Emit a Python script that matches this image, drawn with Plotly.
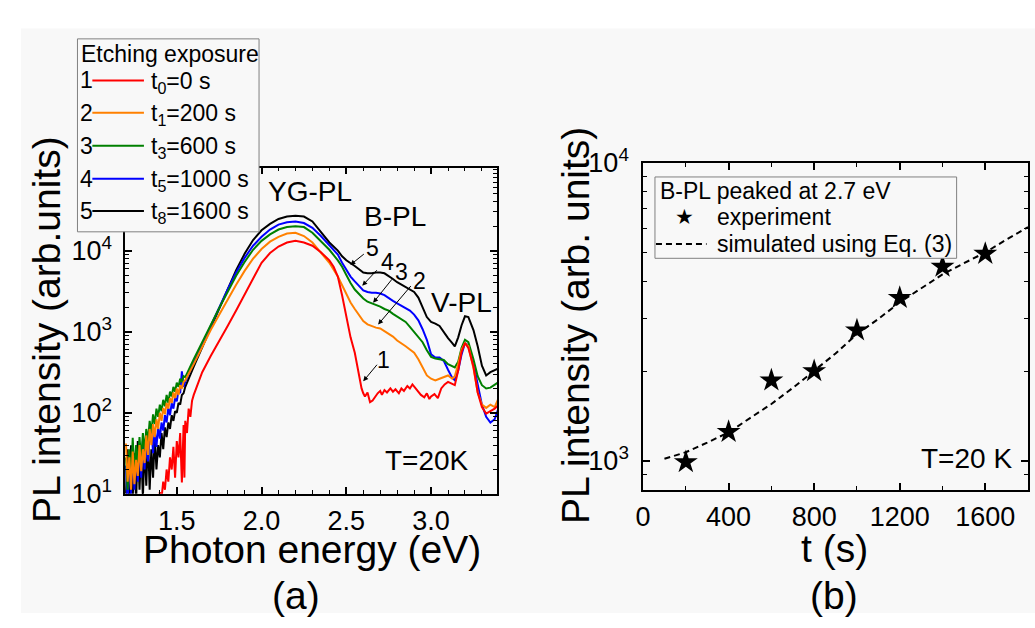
import plotly.graph_objects as go

W, H = 1035, 628
def X(x): return x / W
def Y(y): return 1 - y / H

FONT = "Liberation Sans, Arial, sans-serif"
BG = "#f8f8f8"

# ---------------- panel (a): PL spectra (log10 of intensity)
energy_noise = [1.20, 1.21, 1.22, 1.23, 1.24, 1.25, 1.26, 1.27, 1.28, 1.29,
                1.30, 1.31, 1.32, 1.33, 1.34, 1.35, 1.36, 1.37, 1.38, 1.39,
                1.40, 1.41, 1.42, 1.43, 1.44, 1.45, 1.46, 1.47, 1.48, 1.49,
                1.50, 1.51, 1.52, 1.53, 1.54]
energy_main = [1.55, 1.60, 1.65, 1.70, 1.75, 1.80, 1.85, 1.90, 1.95, 2.00,
               2.05, 2.10, 2.15, 2.20, 2.25, 2.30, 2.35, 2.40, 2.45,
               2.475, 2.50, 2.525, 2.55, 2.575, 2.60, 2.625, 2.65, 2.675, 2.70,
               2.725, 2.75, 2.775, 2.80, 2.825, 2.85, 2.875, 2.90, 2.925, 2.95,
               2.975, 3.00, 3.025, 3.05, 3.075, 3.10, 3.125,
               3.14, 3.16, 3.18, 3.20, 3.22, 3.25, 3.275, 3.30, 3.325, 3.35, 3.375, 3.40]

black_noise = [1.00, 1.55, 0.85, 1.60, 0.95, 1.50, 0.90, 1.65, 1.05, 1.55,
               0.95, 1.60, 1.10, 1.68, 1.05, 1.55, 1.20, 1.70, 1.30, 1.60,
               1.45, 1.75, 1.55, 1.82, 1.70, 1.88, 1.80, 1.97, 1.90, 2.02,
               2.00, 2.12, 2.10, 2.22, 2.24]
black_main = [2.32, 2.57, 2.81, 3.05, 3.28, 3.53, 3.76, 3.96, 4.13, 4.25,
              4.33, 4.39, 4.42, 4.43, 4.42, 4.36, 4.23, 4.10, 4.00,
              3.93, 3.88, 3.85, 3.81, 3.77, 3.73, 3.72, 3.72, 3.73, 3.73,
              3.72, 3.69, 3.65, 3.61, 3.58, 3.55, 3.52, 3.49, 3.42, 3.30,
              3.18, 3.12, 3.10, 3.07, 2.99, 2.92, 2.86,
              2.82, 2.93, 3.08, 3.19, 3.18, 3.02, 2.82, 2.58, 2.46, 2.50, 2.53, 2.55]

blue_noise = [1.35, 0.90, 1.45, 1.00, 1.58, 1.05, 1.50, 1.15, 1.62, 1.20,
              1.65, 1.30, 1.70, 1.40, 1.75, 1.84, 1.50, 1.78, 1.58, 1.82,
              1.68, 1.88, 1.78, 1.97, 1.88, 2.06, 1.97, 2.12, 2.05, 2.18,
              2.14, 2.28, 2.24, 2.51, 2.32]
blue_main = [2.38, 2.62, 2.85, 3.07, 3.30, 3.52, 3.73, 3.91, 4.06, 4.17,
             4.26, 4.32, 4.35, 4.36, 4.34, 4.28, 4.18, 4.07, 3.95,
             3.85, 3.76, 3.68, 3.62, 3.56, 3.51, 3.49, 3.48, 3.48, 3.47,
             3.45, 3.41, 3.38, 3.35, 3.32, 3.30, 3.26, 3.21, 3.14, 3.03,
             2.90, 2.72, 2.68, 2.68, 2.64, 2.53, 2.43,
             2.40, 2.52, 2.72, 2.86, 2.83, 2.62, 2.35, 2.10, 1.95, 1.88, 1.92, 2.07]

green_noise = [1.45, 1.05, 1.55, 1.20, 1.69, 1.25, 1.60, 1.35, 1.70, 1.42,
               1.75, 1.52, 1.80, 1.65, 1.90, 1.75, 1.98, 1.86, 2.05, 1.95,
               2.10, 2.02, 2.16, 2.08, 2.22, 2.12, 2.26, 2.20, 2.32, 2.26,
               2.37, 2.32, 2.42, 2.38, 2.45]
green_main = [2.44, 2.66, 2.88, 3.08, 3.29, 3.50, 3.69, 3.86, 4.01, 4.12,
              4.20, 4.26, 4.29, 4.30, 4.29, 4.22, 4.12, 4.01, 3.88,
              3.80, 3.70, 3.60, 3.52, 3.46, 3.41, 3.37, 3.35, 3.33, 3.31,
              3.28, 3.26, 3.22, 3.19, 3.16, 3.12, 3.06, 3.00, 2.94, 2.87,
              2.77, 2.69, 2.67, 2.66, 2.65, 2.60, 2.57,
              2.56, 2.63, 2.80, 2.90, 2.87, 2.66, 2.45, 2.34, 2.30, 2.31, 2.34, 2.38]

orange_noise = [1.62, 1.15, 1.45, 1.05, 1.52, 1.12, 1.42, 1.22, 1.60, 1.28,
                1.55, 1.38, 1.72, 1.48, 1.80, 1.60, 1.86, 1.70, 1.92, 1.80,
                2.00, 1.90, 2.06, 1.98, 2.12, 2.05, 2.18, 2.12, 2.25, 2.18,
                2.30, 2.22, 2.34, 2.30, 2.38]
orange_main = [2.40, 2.60, 2.82, 3.02, 3.21, 3.40, 3.58, 3.75, 3.90, 4.02,
               4.11, 4.17, 4.21, 4.22, 4.18, 4.10, 3.98, 3.85, 3.68,
               3.57, 3.46, 3.36, 3.28, 3.20, 3.13, 3.09, 3.07, 3.05, 3.04,
               3.01, 2.98, 2.94, 2.89, 2.86, 2.82, 2.78, 2.74, 2.66, 2.56,
               2.46, 2.42, 2.40, 2.42, 2.44, 2.46, 2.42,
               2.45, 2.60, 2.78, 2.86, 2.82, 2.55, 2.25, 2.10, 2.06, 2.10, 2.07, 2.19]

red_E = [1.38, 1.39, 1.40, 1.41, 1.42, 1.43, 1.44, 1.45, 1.46, 1.47, 1.48, 1.49,
         1.50, 1.51, 1.52, 1.53, 1.54, 1.545, 1.55, 1.56, 1.57, 1.58, 1.59,
         1.60, 1.65, 1.70, 1.75, 1.80, 1.85, 1.90, 1.95, 2.00, 2.05, 2.10, 2.15,
         2.20, 2.25, 2.30, 2.35, 2.40,
         2.425, 2.45, 2.475, 2.50, 2.525, 2.55, 2.575,
         2.59, 2.60, 2.61, 2.625, 2.64, 2.655, 2.67, 2.685, 2.70, 2.71, 2.725,
         2.74, 2.76, 2.775, 2.79, 2.81, 2.825, 2.84, 2.86, 2.875, 2.89, 2.91,
         2.925, 2.94, 2.96, 2.975, 2.99, 3.00, 3.02, 3.04, 3.06, 3.08, 3.10,
         3.12, 3.14,
         3.16, 3.18, 3.20, 3.22, 3.25, 3.275, 3.30, 3.325, 3.35, 3.375, 3.40]
red_logI = [0.70, 0.90, 1.02, 0.95, 1.15, 1.05, 1.30, 1.15, 1.45, 1.30, 1.58, 1.20,
            1.65, 1.45, 1.75, 1.14, 1.85, 1.20, 1.90, 1.75, 2.05, 1.95, 2.15,
            2.22, 2.50, 2.70, 2.88, 3.07, 3.26, 3.46, 3.66, 3.85, 3.97, 4.05, 4.10,
            4.12, 4.10, 4.06, 3.98, 3.88,
            3.80, 3.68, 3.45, 3.20, 2.93, 2.74, 2.45,
            2.30, 2.24, 2.20, 2.25, 2.13, 2.15, 2.20, 2.24, 2.27, 2.22, 2.28,
            2.25, 2.30, 2.26, 2.29, 2.24, 2.30, 2.27, 2.33, 2.30, 2.35, 2.30,
            2.27, 2.22, 2.19, 2.24, 2.17, 2.20, 2.23, 2.18, 2.30, 2.35, 2.38,
            2.36, 2.34,
            2.52, 2.75, 2.86, 2.80, 2.57, 2.25, 2.07, 1.99, 2.02, 2.05, 2.10]

legend_labels = ["t<sub>0</sub>=0 s", "t<sub>1</sub>=200 s", "t<sub>3</sub>=600 s",
                 "t<sub>5</sub>=1000 s", "t<sub>8</sub>=1600 s"]
colors = ["#ff0000", "#ff8000", "#008000", "#0000ff", "#000000"]

# ---------------- panel (b)
t_exp = [200, 400, 600, 800, 1000, 1200, 1400, 1600]
I_exp = [990, 1250, 1860, 2000, 2740, 3520, 4480, 4950]
t_sim = [100, 200, 300, 400, 500, 600, 700, 800, 900, 1000, 1100, 1200,
         1300, 1400, 1500, 1600, 1700, 1800]
I_sim = [1015, 1068, 1150, 1245, 1390, 1550, 1755, 2000, 2290, 2660, 2990, 3400,
         3790, 4220, 4600, 5000, 5530, 6080]

fig = go.Figure()

curves = [
    (red_E, red_logI),
    (energy_noise + energy_main, orange_noise + orange_main),
    (energy_noise + energy_main, green_noise + green_main),
    (energy_noise + energy_main, blue_noise + blue_main),
    (energy_noise + energy_main, black_noise + black_main),
]
for i in [4, 3, 2, 1, 0]:
    e, lg = curves[i]
    fig.add_trace(go.Scatter(x=e, y=[10 ** v for v in lg], mode="lines",
                             line=dict(color=colors[i], width=2),
                             showlegend=False, xaxis="x", yaxis="y",
                             hoverinfo="skip"))

fig.add_trace(go.Scatter(x=t_sim, y=I_sim, mode="lines", showlegend=False,
                         line=dict(color="black", width=2, dash="6px,4px"),
                         xaxis="x2", yaxis="y2"))
fig.add_trace(go.Scatter(x=t_exp, y=I_exp, mode="markers", showlegend=False,
                         marker=dict(symbol="star", size=18, color="black"),
                         xaxis="x2", yaxis="y2"))

axis_common = dict(showline=True, linecolor="black", linewidth=1.5, mirror="ticks",
                   ticks="inside", ticklen=7, tickwidth=1.5, tickcolor="black",
                   showgrid=False, zeroline=False,
                   tickfont=dict(size=27, family=FONT, color="black"))

minor_a_x = [1.2, 1.3, 1.4, 1.6, 1.7, 1.8, 1.9, 2.1, 2.2, 2.3, 2.4, 2.6, 2.7, 2.8, 2.9, 3.1, 3.2, 3.3]
minor_log_a = [m * d for d in (10, 100, 1000, 10000) for m in range(2, 10)] + [100000]
minor_log_b = [800, 900] + [m * 1000 for m in range(2, 10)]
minor_cfg = dict(ticks="inside", ticklen=4, tickwidth=1.2, tickcolor="black")

fig.update_layout(
    width=W, height=H, margin=dict(l=0, r=0, t=0, b=0),
    paper_bgcolor="white", plot_bgcolor=BG,
    font=dict(family=FONT, color="black"),
    showlegend=False,
    xaxis=dict(domain=[X(118), X(493)], range=[1.195, 3.39], anchor="y",
               tickvals=[1.5, 2.0, 2.5, 3.0], ticktext=["1.5", "2.0", "2.5", "3.0"],
               ticklabelstandoff=2,
               minor=dict(tickvals=minor_a_x, **minor_cfg), **axis_common),
    yaxis=dict(domain=[Y(502), Y(157)], type="log", range=[1, 5.025], anchor="x",
               tickvals=[10, 100, 1000, 10000],
               ticktext=["10<sup>1</sup>", "10<sup>2</sup>", "10<sup>3</sup>", "10<sup>4</sup>"],
               ticklabelstandoff=6,
               minor=dict(tickvals=minor_log_a, **minor_cfg), **axis_common),
    xaxis2=dict(domain=[X(640), X(1028)], range=[0, 1800], anchor="y2",
                tickvals=[0, 400, 800, 1200, 1600], ticklabelstandoff=2,
                minor=dict(dtick=200, **minor_cfg), **axis_common),
    yaxis2=dict(domain=[Y(498), Y(152)], type="log", range=[2.9016, 4.0], anchor="x2",
                tickvals=[1000, 10000],
                ticktext=["10<sup>3</sup>", "10<sup>4</sup>"],
                ticklabelstandoff=7,
                minor=dict(tickvals=minor_log_b, **minor_cfg), **axis_common),
)

shapes = [
    # light grey page background (white strip at top and left as in original)
    dict(type="rect", xref="paper", yref="paper", x0=X(13), x1=1, y0=0, y1=Y(10),
         fillcolor=BG, line=dict(width=0), layer="below"),
    # legend box of panel (a)
    dict(type="rect", xref="paper", yref="paper", x0=X(70), x1=X(253),
         y0=Y(225), y1=Y(21), fillcolor=BG,
         line=dict(color="#808080", width=1), layer="above"),
    # legend box of panel (b)
    dict(type="rect", xref="paper", yref="paper", x0=X(652), x1=X(956),
         y0=Y(253), y1=Y(167), fillcolor=BG,
         line=dict(color="#808080", width=1), layer="above"),
    dict(type="line", xref="paper", yref="paper", x0=X(653), x1=X(704),
         y0=Y(238), y1=Y(238), line=dict(color="black", width=2, dash="6px,4px"),
         layer="above"),
]
annotations = []

def text(txt, cx, cy, size, anchor="center", angle=0):
    annotations.append(dict(text=txt, x=X(cx), y=Y(cy), xref="paper", yref="paper",
                            xanchor=anchor, yanchor="middle", showarrow=False,
                            textangle=angle, font=dict(size=size, family=FONT,
                                                       color="black")))

text("Etching exposure", 72, 37, 23, "left")
rows = [65, 99, 134, 169, 203]
for k, ry in enumerate(rows):
    shapes.append(dict(type="line", xref="paper", yref="paper",
                       x0=X(85), x1=X(137), y0=Y(ry), y1=Y(ry),
                       line=dict(color=colors[k], width=2), layer="above"))
    text(str(k + 1), 79, ry, 23)
    text(legend_labels[k], 142, ry + 2, 23, "left")

text("B-PL peaked at 2.7 eV", 655, 182, 23, "left")
annotations.append(dict(text="★", x=X(682), y=Y(209), xref="paper", yref="paper",
                        xanchor="center", yanchor="middle", showarrow=False,
                        font=dict(size=21, family="DejaVu Sans", color="black")))
text("experiment", 713, 209, 23, "left")
text("simulated using Eq. (3)", 713, 238, 23, "left")

text("YG-PL", 304, 182, 28)
text("B-PL", 390, 209, 28)
text("V-PL", 457, 300, 28)
text("T=20K", 422, 467, 28)
text("T=20 K", 966, 465, 28)
text("Photon energy (eV)", 306, 561, 39)
text("(a)", 290, 609, 39)
text("t (s)", 833, 560, 39)
text("(b)", 832, 609, 39)
text("PL intensity (arb.units)", 39, 328, 39, angle=-90)
text("PL intensity (arb. units)", 572, 324, 39, angle=-90)

arrows = [  # (label, label_x, label_y, target_x, target_y, tail_x, tail_y)
    ("5", 367, 242, 345, 260, 360, 248),
    ("4", 382, 257, 357, 282, 373, 265),
    ("3", 397, 267, 368, 300, 388, 275),
    ("2", 415, 277, 373, 323, 407, 283),
    ("1", 378, 360, 358, 383, 373, 365),
]
for lab, lx, ly, tx, ty, sx, sy in arrows:
    text(lab, lx, ly, 23)
    annotations.append(dict(text="", x=X(tx), y=Y(ty), xref="paper", yref="paper",
                            ax=sx - tx, ay=sy - ty, showarrow=True, arrowhead=2,
                            arrowsize=1, arrowwidth=1, arrowcolor="black"))

fig.update_layout(shapes=shapes, annotations=annotations)
# let the figure fill the window exactly (no default 8 px page margin, no toolbar)
fig.write_html("out.html", config={"displayModeBar": False},
               post_script="document.body.style.margin='0';"
                           "document.body.style.overflow='hidden';")
